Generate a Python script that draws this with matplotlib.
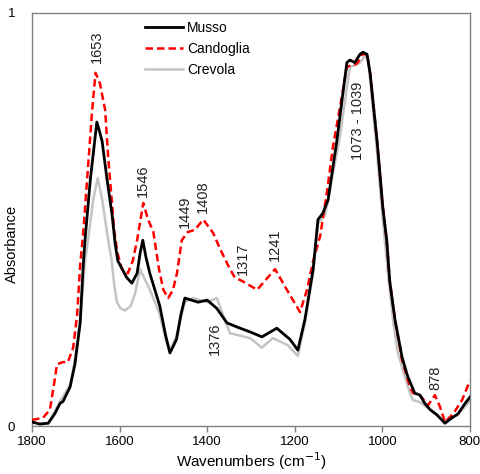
import matplotlib
matplotlib.use("Agg")
import matplotlib.pyplot as plt

plt.rcParams['font.family'] = ['Liberation Sans', 'DejaVu Sans']

# Musso (black)
musso_wn = [1800, 1782, 1763, 1748, 1736, 1729, 1713, 1702, 1690, 1683, 1679, 1667, 1652, 1645,
            1640, 1629, 1617, 1610, 1604, 1584, 1572, 1560, 1553, 1547, 1540, 1531, 1508, 1495,
            1485, 1470, 1460, 1451, 1421, 1400, 1378, 1355, 1332, 1302, 1275, 1241, 1211, 1193,
            1177, 1158, 1147, 1136, 1124, 1104, 1081, 1074, 1063, 1051, 1044, 1035, 1028, 1012,
            999, 990, 983, 971, 955, 942, 926, 914, 903, 891, 875, 857, 841, 827, 811, 800]
musso_a = [0.01, 0.005, 0.007, 0.03, 0.055, 0.06, 0.095, 0.15, 0.25, 0.39, 0.45, 0.595, 0.736, 0.71,
           0.69, 0.60, 0.51, 0.44, 0.40, 0.36, 0.346, 0.37, 0.42, 0.45, 0.41, 0.37, 0.29, 0.22,
           0.177, 0.21, 0.27, 0.31, 0.30, 0.305, 0.285, 0.25, 0.24, 0.228, 0.216, 0.237, 0.21, 0.184,
           0.257, 0.38, 0.50, 0.515, 0.547, 0.69, 0.88, 0.886, 0.88, 0.90, 0.905, 0.90, 0.855, 0.69,
           0.53, 0.45, 0.35, 0.257, 0.167, 0.12, 0.08, 0.075, 0.055, 0.04, 0.027, 0.007, 0.02, 0.03,
           0.055, 0.07]

# Candoglia (red dashed)
cand_wn = [1800, 1775, 1759, 1747, 1743, 1729, 1718, 1706, 1697, 1690, 1683, 1674, 1663, 1655,
           1645, 1633, 1626, 1612, 1605, 1595, 1581, 1570, 1560, 1546, 1535, 1523, 1510, 1500,
           1489, 1478, 1469, 1458, 1444, 1428, 1409, 1386, 1371, 1348, 1337, 1318, 1286, 1245,
           1218, 1188, 1172, 1158, 1142, 1126, 1113, 1097, 1081, 1063, 1056, 1047, 1040, 1035,
           1028, 1012, 999, 990, 983, 971, 955, 937, 930, 914, 896, 880, 868, 857, 838, 818, 800]
cand_a = [0.015, 0.02, 0.04, 0.12, 0.15, 0.155, 0.155, 0.19, 0.27, 0.39, 0.47, 0.60, 0.76, 0.855,
          0.83, 0.765, 0.65, 0.47, 0.42, 0.38, 0.37, 0.40, 0.45, 0.54, 0.50, 0.47, 0.38, 0.33,
          0.31, 0.33, 0.37, 0.45, 0.47, 0.475, 0.50, 0.467, 0.43, 0.38, 0.36, 0.35, 0.33, 0.38,
          0.33, 0.276, 0.33, 0.40, 0.46, 0.57, 0.675, 0.77, 0.87, 0.875, 0.88, 0.90, 0.90, 0.90,
          0.855, 0.69, 0.53, 0.45, 0.35, 0.257, 0.16, 0.095, 0.08, 0.075, 0.05, 0.075, 0.046, 0.01,
          0.03, 0.063, 0.11]

# Crevola (light grey)
crev_wn = [1800, 1782, 1763, 1748, 1736, 1713, 1702, 1690, 1679, 1672, 1660, 1650, 1640, 1626,
           1618, 1612, 1606, 1598, 1588, 1575, 1565, 1553, 1549, 1535, 1523, 1508, 1495, 1485, 1470,
           1451, 1433, 1400, 1378, 1364, 1348, 1302, 1275, 1250, 1216, 1193, 1177, 1158, 1147,
           1131, 1120, 1097, 1074, 1058, 1051, 1040, 1033, 1028, 1012, 999, 990, 975, 965, 953,
           937, 930, 914, 891, 862, 853, 830, 800]
crev_a = [0.01, 0.005, 0.008, 0.035, 0.06, 0.10, 0.16, 0.26, 0.40, 0.45, 0.55, 0.60, 0.55, 0.45,
          0.40, 0.34, 0.30, 0.285, 0.28, 0.29, 0.32, 0.38, 0.37, 0.34, 0.31, 0.27, 0.21, 0.18, 0.22,
          0.30, 0.31, 0.30, 0.31, 0.27, 0.225, 0.213, 0.19, 0.213, 0.196, 0.17, 0.25, 0.37, 0.49,
          0.51, 0.57, 0.70, 0.87, 0.875, 0.88, 0.895, 0.89, 0.84, 0.66, 0.50, 0.40, 0.25, 0.18, 0.135,
          0.08, 0.063, 0.058, 0.04, 0.015, 0.015, 0.025, 0.06]

# Peak annotations: (text, wavenumber, absorbance, vertical alignment)
peak_labels = [("1653", 1652, 0.879, "bottom"), ("1546", 1547, 0.555, "bottom"),
               ("1449", 1451, 0.48, "bottom"), ("1408", 1410, 0.515, "bottom"),
               ("1317", 1318, 0.365, "bottom"), ("1241", 1245, 0.40, "bottom"),
               ("1073 - 1039", 1056, 0.835, "top"), ("1376", 1382, 0.25, "top"),
               ("878", 878, 0.087, "bottom")]

x_ticks = [1800, 1600, 1400, 1200, 1000, 800]
y_ticks = [0, 1]

fig = plt.figure(figsize=(4.8, 4.74), dpi=100)
ax = fig.add_axes([0.0667, 0.101, 0.9123, 0.8716])

ax.plot(crev_wn, crev_a, color="#c4c4c4", lw=1.8, label="Crevola", zorder=2)
ax.plot(cand_wn, cand_a, color="#ff0000", lw=1.8, ls=(0, (3, 1.6)), label="Candoglia", zorder=3)
ax.plot(musso_wn, musso_a, color="black", lw=2.0, label="Musso", zorder=4)

for txt, x, y, va in peak_labels:
    ax.text(x, y, txt, rotation=90, ha="center", va=va, fontsize=10.5, color="#222222")

ax.set_xlim(1800, 800)
ax.set_ylim(0, 1)
ax.set_xticks(x_ticks)
ax.set_yticks(y_ticks)
ax.set_yticklabels([str(v) for v in y_ticks])
ax.tick_params(axis="x", direction="out", length=4, width=1, color="#808080",
               labelsize=9.5, pad=3)
ax.tick_params(axis="y", length=0, labelsize=9.5, pad=12)
for s in ax.spines.values():
    s.set_color("#808080")
    s.set_linewidth(1.0)

ax.set_xlabel("Wavenumbers (cm$^{-1}$)", fontsize=11, labelpad=2)
ax.set_ylabel("Absorbance", fontsize=10.5)
ax.yaxis.set_label_coords(-0.03, 0.44)

handles, labels = ax.get_legend_handles_labels()
order = [2, 1, 0]
ax.legend([handles[i] for i in order], [labels[i] for i in order], loc="upper left",
          bbox_to_anchor=(0.24, 1.0), frameon=False, fontsize=10, handlelength=2.7,
          handletextpad=0.3, labelspacing=0.5, borderaxespad=0.2)

fig.savefig("out.png", dpi=100)
